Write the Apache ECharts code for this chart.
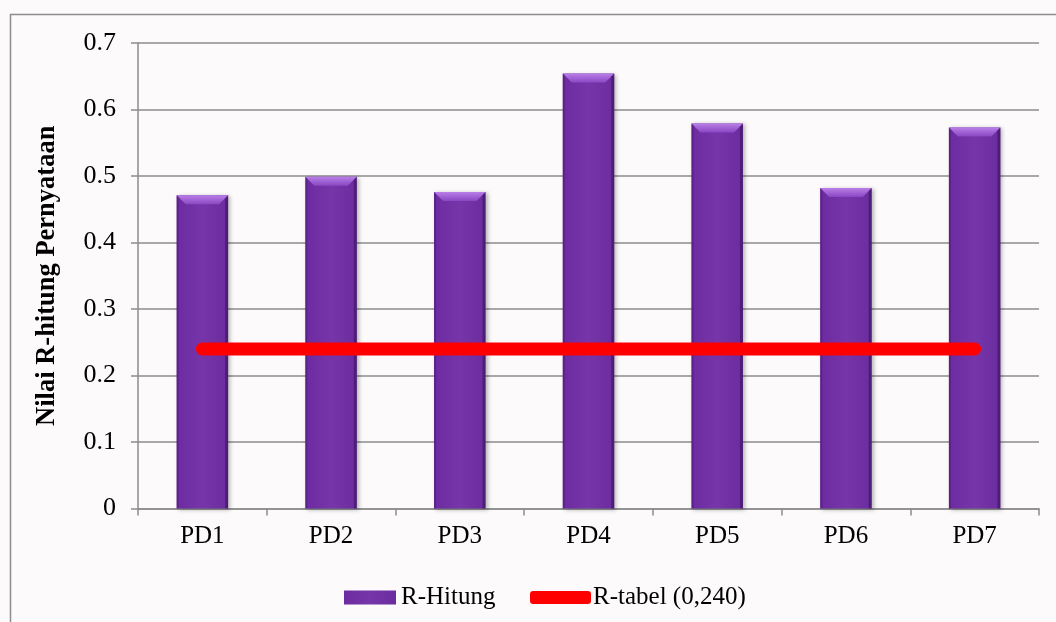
<!DOCTYPE html>
<html>
<head>
<meta charset="utf-8">
<script src="https://cdn.jsdelivr.net/npm/echarts@6/dist/echarts.min.js"></script>
<style>
  html, body { margin: 0; padding: 0; background: #ffffff; }
  #chart { width: 1056px; height: 622px; }
</style>
</head>
<body>
<div id="chart"></div>
<script>
// Statements and their computed r values
const categories = ['PD1', 'PD2', 'PD3', 'PD4', 'PD5', 'PD6', 'PD7'];
const rHitung = [0.471, 0.499, 0.476, 0.654, 0.579, 0.482, 0.573];
// Critical r value from the table
const rTabel = [0.240, 0.240, 0.240, 0.240, 0.240, 0.240, 0.240];
const yTicks = { min: 0, max: 0.7, interval: 0.1 };
const seriesNames = ['R-Hitung', 'R-tabel (0,240)'];
const axisTitle = 'Nilai R-hitung Pernyataan';

const serif = "'Times New Roman', 'Liberation Serif', 'DejaVu Serif', serif";
const BAR_RATIO = 0.4;

const chart = echarts.init(document.getElementById('chart'), null, { renderer: 'canvas' });

// Bevelled top edge and shaded sides drawn over each bar
function bevelItem(params, api) {
  const idx = api.value(0);
  const val = api.value(1);
  const top = api.coord([idx, val]);
  const base = api.coord([idx, 0]);
  const w = api.size([1, 0])[0] * BAR_RATIO;
  const x0 = top[0] - w / 2, x1 = top[0] + w / 2;
  const y0 = top[1], yb = base[1];
  const b = 9;
  return {
    type: 'group',
    children: [
      {
        type: 'polygon',
        shape: { points: [[x0, y0], [x1, y0], [x1 - b, y0 + b], [x0 + b, y0 + b]] },
        style: {
          fill: new echarts.graphic.LinearGradient(0, 0, 0, 1, [
            { offset: 0, color: '#b97fe8' },
            { offset: 1, color: '#8a47c2' }
          ])
        }
      },
      {
        type: 'polygon',
        shape: { points: [[x1, y0], [x1, yb], [x1 - 3, yb], [x1 - 3, y0 + 3]] },
        style: { fill: 'rgba(45,10,70,0.45)' }
      },
      {
        type: 'polygon',
        shape: { points: [[x0, y0], [x0 + 2, y0 + 2], [x0 + 2, yb], [x0, yb]] },
        style: { fill: 'rgba(60,15,95,0.35)' }
      }
    ]
  };
}

const option = {
  backgroundColor: '#fcfafa',
  animation: false,
  textStyle: { fontFamily: serif, color: '#000' },
  grid: { left: 138, right: 17, top: 43, bottom: 113.5, containLabel: false },
  graphic: [
    {
      type: 'polyline',
      shape: { points: [[10.5, 640], [10.5, 14.5], [1070, 14.5]] },
      style: { stroke: '#8c8c8c', lineWidth: 1.5, fill: null },
      z: -1
    }
  ],
  legend: [
    {
      data: [{ name: seriesNames[0], icon: 'rect' }],
      left: 339, top: 580,
      itemWidth: 52, itemHeight: 14, itemGap: 5,
      textStyle: { fontFamily: serif, fontSize: 25, color: '#000', padding: [0, 0, 0, 0] }
    },
    {
      data: [{ name: seriesNames[1], icon: 'roundRect' }],
      left: 525, top: 580,
      itemWidth: 61, itemHeight: 13,
      textStyle: { fontFamily: serif, fontSize: 25, color: '#000', padding: [0, 0, 0, -3] }
    }
  ],
  xAxis: {
    type: 'category',
    data: categories,
    boundaryGap: true,
    axisLine: { show: true, lineStyle: { color: '#8c8c8c', width: 1.5 } },
    axisTick: { show: true, length: 7, lineStyle: { color: '#8c8c8c', width: 1.5 } },
    axisLabel: { fontFamily: serif, fontSize: 25, color: '#000', margin: 15 },
    splitLine: { show: false }
  },
  yAxis: {
    type: 'value',
    min: yTicks.min, max: yTicks.max, interval: yTicks.interval,
    name: axisTitle,
    nameLocation: 'middle',
    nameRotate: 90,
    nameGap: 77,
    nameTextStyle: { fontFamily: serif, fontSize: 26.5, fontWeight: 'bold', color: '#000' },
    axisLine: { show: true, lineStyle: { color: '#8c8c8c', width: 1.5 } },
    axisTick: { show: true, length: 7, lineStyle: { color: '#8c8c8c', width: 1.5 } },
    axisLabel: {
      fontFamily: serif, fontSize: 26, color: '#000', margin: 22,
      formatter: v => (v === 0 ? '0' : v.toFixed(1))
    },
    splitLine: { show: true, lineStyle: { color: '#8c8c8c', width: 1.5 } }
  },
  series: [
    {
      name: seriesNames[0],
      type: 'bar',
      data: rHitung,
      barWidth: (BAR_RATIO * 100) + '%',
      itemStyle: {
        color: new echarts.graphic.LinearGradient(0, 0, 1, 0, [
          { offset: 0, color: '#6c2ba0' },
          { offset: 0.5, color: '#7636aa' },
          { offset: 1, color: '#6b2c9f' }
        ]),
        shadowColor: 'rgba(0,0,0,0.28)',
        shadowBlur: 4,
        shadowOffsetX: 2,
        shadowOffsetY: 1
      },
      z: 2
    },
    {
      name: 'bevel',
      type: 'custom',
      data: rHitung.map((v, i) => [i, v]),
      encode: { x: 0, y: 1 },
      renderItem: bevelItem,
      silent: true,
      z: 3
    },
    {
      name: seriesNames[1],
      type: 'line',
      data: rTabel,
      symbol: 'none',
      lineStyle: { color: '#ff0000', width: 13, cap: 'round', join: 'round' },
      itemStyle: { color: '#ff0000' },
      z: 4
    }
  ]
};

chart.setOption(option);
</script>
</body>
</html>
